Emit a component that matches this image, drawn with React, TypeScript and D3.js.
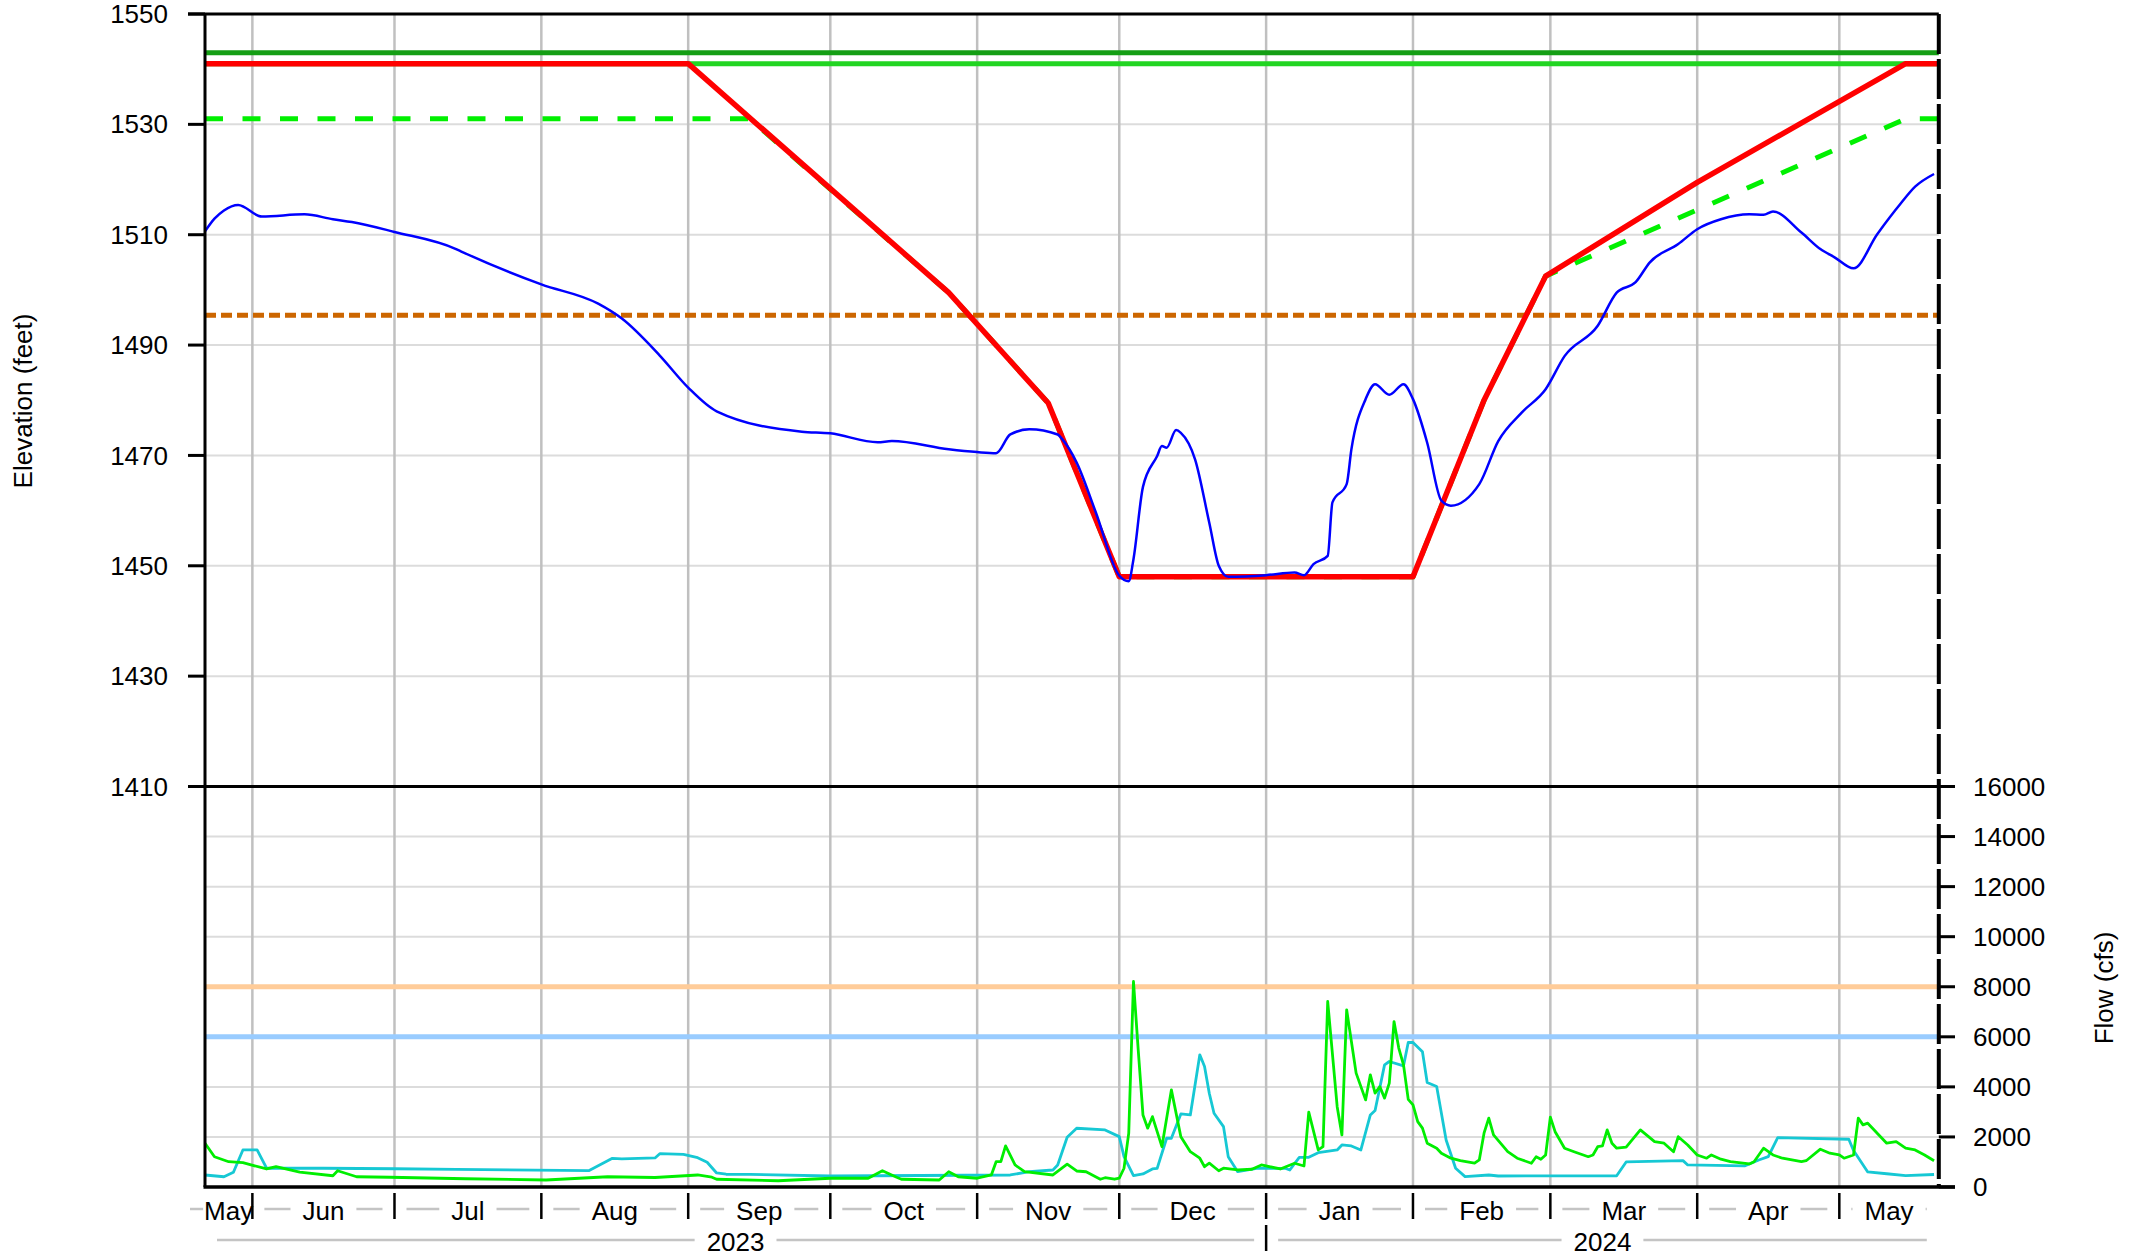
import React from "react";
import * as d3 from "d3";

// ---------------- data ----------------
const START = "2023-05-22";
const END = "2024-05-22";

const ELEV_TICKS = [1410, 1430, 1450, 1470, 1490, 1510, 1530, 1550];
const FLOW_TICKS = [0, 2000, 4000, 6000, 8000, 10000, 12000, 14000, 16000];

const TOP_FLOOD_POOL = 1543; // dark green
const TOP_CONSERVATION = 1541; // light green
const MIN_POOL = 1495.4; // orange dashed
const FLOW_LIMIT_HIGH = 8000; // peach
const FLOW_LIMIT_LOW = 6000; // light blue

// [day offset from START, elevation ft]
const RULE_CURVE: [number, number][] = [
  [0, 1541], [102, 1541], [157, 1499.5], [178, 1479.5], [193, 1448],
  [255, 1448], [270, 1480], [283, 1502.5], [315, 1519.5], [359, 1541], [366, 1541],
];
const GUIDE_CURVE: [number, number][] = [
  [0, 1531], [115, 1531], [157, 1499.5], [178, 1479.5], [193, 1448],
  [255, 1448], [270, 1480], [283, 1502.5], [359, 1531], [366, 1531],
];
const POOL_ELEV: [number, number][] = [
  [0, 1510.6], [2, 1512.9], [4, 1514.4], [7, 1515.4], [12, 1513.3], [21, 1513.7], [27, 1512.8],
  [31, 1512.3], [40, 1510.5], [53, 1507.4], [54, 1507.0], [71, 1501.0], [83, 1497.5], [88, 1494.8],
  [96, 1488.1], [102, 1482.3], [108, 1478.0], [126, 1474.3], [132, 1474.0], [142, 1472.4],
  [145, 1472.6], [157, 1471.1], [163, 1470.6], [167, 1470.4], [170, 1473.8], [174, 1474.75],
  [180, 1473.8], [181, 1472.9], [184, 1468.7], [188, 1459.8], [193, 1448.2], [195, 1447.2],
  [196, 1451.2], [198, 1464.3], [201, 1469.9], [202, 1471.7], [203, 1471.4], [205, 1474.6],
  [206, 1474.1], [209, 1469.3], [212, 1457.8], [214, 1450.0], [216, 1448.0], [224, 1448.3],
  [230, 1448.8], [232, 1448.3], [234, 1450.3], [237, 1451.8], [238, 1461.5], [241, 1464.8],
  [242, 1471.1], [245, 1480.2], [247, 1482.9], [250, 1481.0], [253, 1482.9], [255, 1480.2],
  [258, 1472.3], [261, 1461.8], [263, 1460.9], [269, 1464.8], [273, 1472.6], [278, 1477.8],
  [283, 1482.0], [287, 1488.0], [294, 1493.5], [298, 1499.5], [302, 1501.4], [305, 1505.0],
  [311, 1508.3], [315, 1511.0], [320, 1512.8], [326, 1513.7], [329, 1513.6], [331, 1514.2],
  [337, 1510.4], [341, 1507.4], [344, 1505.9], [348, 1503.9], [353, 1510.1], [358, 1515.7],
  [361, 1518.7], [365, 1521.0],
];

// [day offset, cfs]
const FLOW_GREEN: [number, number][] = [
  [0, 1750], [2, 1210], [5, 1010], [8, 970], [13, 720], [15, 810], [20, 590], [27, 450], [28, 650],
  [32, 410], [39, 390], [55, 330], [72, 280], [85, 410], [95, 380], [104, 480], [107, 390], [108, 310],
  [121, 250], [132, 350], [140, 350], [143, 650], [146, 390], [147, 310], [155, 280], [157, 610],
  [159, 410], [163, 350], [166, 480], [167, 1010], [168, 1010], [169, 1640], [171, 880], [173, 610],
  [179, 480], [182, 910], [184, 640], [186, 610], [189, 310], [190, 370], [192, 310], [193, 350],
  [194, 750], [195, 2150], [196, 8210], [197, 5480], [198, 2880], [199, 2350], [200, 2810],
  [202, 1610], [204, 3880], [206, 2010], [208, 1410], [210, 1150], [211, 810], [212, 950],
  [214, 650], [215, 750], [218, 680], [221, 710], [223, 880], [227, 720], [230, 950], [232, 840],
  [233, 2990], [235, 1480], [236, 1610], [237, 7410], [239, 3210], [240, 2080], [241, 7080],
  [243, 4550], [245, 3480], [246, 4480], [247, 3750], [248, 4010], [249, 3550], [250, 4150],
  [251, 6610], [252, 5550], [253, 4880], [254, 3500], [255, 3280], [256, 2610], [257, 2350],
  [258, 1750], [260, 1550], [261, 1350], [263, 1150], [265, 1050], [268, 950], [269, 1080],
  [270, 2150], [271, 2750], [272, 2080], [275, 1410], [277, 1150], [280, 950], [281, 1210],
  [282, 1110], [283, 1280], [284, 2790], [285, 2210], [287, 1550], [289, 1410], [292, 1210],
  [293, 1280], [294, 1610], [295, 1640], [296, 2280], [297, 1750], [298, 1550], [300, 1590],
  [303, 2280], [306, 1810], [308, 1750], [310, 1410], [311, 2010], [313, 1680], [315, 1280],
  [317, 1150], [318, 1280], [320, 1110], [322, 1010], [326, 920], [327, 1010], [329, 1550],
  [331, 1280], [333, 1150], [337, 1010], [338, 1050], [341, 1510], [343, 1350], [345, 1280],
  [346, 1150], [348, 1280], [349, 2750], [350, 2480], [351, 2550], [354, 1950], [355, 1750],
  [357, 1810], [359, 1550], [361, 1480], [363, 1280], [365, 1050],
];
const FLOW_CYAN: [number, number][] = [
  [0, 480], [4, 410], [6, 590], [8, 1480], [11, 1480], [13, 750], [25, 750], [40, 730], [53, 707],
  [81, 653], [86, 1147], [88, 1120], [95, 1160], [96, 1330], [101, 1300], [104, 1170], [106, 990],
  [108, 560], [110, 510], [115, 507], [132, 440], [170, 480], [174, 613], [179, 680], [180, 880],
  [182, 1987], [184, 2347], [190, 2280], [193, 2013], [194, 1213], [196, 453], [198, 520],
  [200, 720], [201, 747], [203, 1947], [204, 1947], [206, 2920], [208, 2880], [210, 5280],
  [211, 4813], [212, 3747], [213, 2947], [215, 2413], [216, 1213], [218, 613], [222, 747],
  [228, 747], [229, 680], [231, 1187], [233, 1187], [235, 1373], [239, 1480], [240, 1680],
  [242, 1640], [244, 1480], [246, 2880], [247, 3053], [249, 4880], [250, 5013], [253, 4840],
  [254, 5773], [255, 5773], [257, 5400], [258, 4173], [260, 4013], [262, 1880], [264, 747],
  [266, 413], [271, 480], [273, 440], [298, 450], [300, 1000], [312, 1053], [313, 880],
  [325, 840], [328, 1080], [330, 1213], [332, 1973], [347, 1907], [348, 1456], [351, 600],
  [355, 529], [359, 457], [365, 500],
];

// ---------------- layout ----------------
const W = 2134;
const H = 1258;
const X0 = 205;
const X1 = 1938.8;
const Y_TOP = 14;
const Y_MID = 786.5;
const Y_BOT = 1187;
const FONT = 26;
const FF = '"Liberation Sans", Arial, Helvetica, sans-serif';

let _ctx: CanvasRenderingContext2D | null = null;
function textWidth(s: string): number {
  if (!_ctx) {
    const c = document.createElement("canvas");
    _ctx = c.getContext("2d");
  }
  if (!_ctx) return s.length * FONT * 0.55;
  _ctx.font = `${FONT}px "Liberation Sans", Arial, sans-serif`;
  return _ctx.measureText(s).width;
}

export default function App() {
  const parse = d3.utcParse("%Y-%m-%d");
  const t0 = parse(START)!;
  const t1 = parse(END)!;
  const x = d3.scaleUtc().domain([t0, t1]).range([X0, X1]);
  const yE = d3.scaleLinear().domain([1410, 1550]).range([Y_MID, Y_TOP]);
  const yF = d3.scaleLinear().domain([0, 16000]).range([Y_BOT, Y_MID]);
  const dd = (d: number) => d3.utcDay.offset(t0, d);

  const elevLine = d3.line<[number, number]>().x((d) => x(dd(d[0]))).y((d) => yE(d[1]));
  const elevSmooth = d3
    .line<[number, number]>()
    .x((d) => x(dd(d[0])))
    .y((d) => yE(d[1]))
    .curve(d3.curveMonotoneX);
  const flowLine = d3.line<[number, number]>().x((d) => x(dd(d[0]))).y((d) => yF(d[1]));

  const months = d3.utcMonth.range(d3.utcMonth.ceil(t0), t1);
  const monthBounds = [t0, ...months, t1];
  const fmtMonth = d3.utcFormat("%b");
  const years = d3.utcYear.range(d3.utcYear.ceil(t0), t1);
  const yearBounds = [t0, ...years, t1];
  const fmtYear = d3.utcFormat("%Y");

  const GAP = 12;
  const grayLabelRow = (bounds: Date[], fmt: (d: Date) => string, yLine: number, yText: number, key: string) => {
    const out: React.ReactNode[] = [];
    for (let i = 0; i < bounds.length - 1; i++) {
      const a = x(bounds[i]);
      const b = x(bounds[i + 1]);
      const label = fmt(bounds[i]);
      const cx = (a + b) / 2;
      const w = textWidth(label);
      const L = cx - w / 2;
      const R = cx + w / 2;
      if (i === 0 && L - GAP <= a + GAP) {
        out.push(<line key={`${key}gl${i}`} x1={190} x2={L - 1} y1={yLine} y2={yLine} stroke="#c4c4c4" strokeWidth={2.5} />);
      }
      if (L - GAP > a + GAP) {
        out.push(<line key={`${key}gl${i}`} x1={a + GAP} x2={L - GAP} y1={yLine} y2={yLine} stroke="#c4c4c4" strokeWidth={2.5} />);
      }
      if (b - GAP > R + GAP) {
        out.push(<line key={`${key}gr${i}`} x1={R + GAP} x2={b - GAP} y1={yLine} y2={yLine} stroke="#c4c4c4" strokeWidth={2.5} />);
      }
      out.push(
        <text key={`${key}t${i}`} x={cx} y={yText} textAnchor="middle" fontSize={FONT} fill="#000">
          {label}
        </text>
      );
    }
    return out;
  };

  const elevGrid = ELEV_TICKS.filter((v) => v !== 1410 && v !== 1550);
  const flowGrid = FLOW_TICKS.filter((v) => v !== 0 && v !== 16000);

  return (
    <svg
      width={W}
      height={H}
      style={{ position: "absolute", left: 0, top: 0, background: "#fff" }}
      fontFamily={FF}
    >
      <rect x={0} y={0} width={W} height={H} fill="#fff" />

      {/* horizontal grid */}
      {elevGrid.map((v) => (
        <line key={`ge${v}`} x1={X0} x2={X1} y1={yE(v)} y2={yE(v)} stroke="#dcdcdc" strokeWidth={2} />
      ))}
      {flowGrid.map((v) => (
        <line key={`gf${v}`} x1={X0} x2={X1} y1={yF(v)} y2={yF(v)} stroke="#dcdcdc" strokeWidth={2} />
      ))}
      {/* vertical grid */}
      {months.map((m) => (
        <line key={`gv${+m}`} x1={x(m)} x2={x(m)} y1={Y_TOP} y2={Y_BOT} stroke="#c0c0c0" strokeWidth={2.5} />
      ))}

      {/* elevation reference lines */}
      <line x1={X0} x2={X1} y1={yE(TOP_FLOOD_POOL)} y2={yE(TOP_FLOOD_POOL)} stroke="#149e14" strokeWidth={5} />
      <line x1={X0} x2={X1} y1={yE(TOP_CONSERVATION)} y2={yE(TOP_CONSERVATION)} stroke="#22d522" strokeWidth={5} />
      <line
        x1={X0}
        x2={X1}
        y1={yE(MIN_POOL)}
        y2={yE(MIN_POOL)}
        stroke="#cc6600"
        strokeWidth={5}
        strokeDasharray="11 5"
      />
      <path d={elevLine(GUIDE_CURVE) || ""} fill="none" stroke="#00f000" strokeWidth={5} strokeDasharray="18 19.5" />
      <path d={elevLine(RULE_CURVE) || ""} fill="none" stroke="#ff0000" strokeWidth={5.5} strokeLinejoin="round" />
      <path d={elevSmooth(POOL_ELEV) || ""} fill="none" stroke="#0000ff" strokeWidth={2.5} />

      {/* flow reference lines */}
      <line x1={X0} x2={X1} y1={yF(FLOW_LIMIT_HIGH)} y2={yF(FLOW_LIMIT_HIGH)} stroke="#ffcc99" strokeWidth={5} />
      <line x1={X0} x2={X1} y1={yF(FLOW_LIMIT_LOW)} y2={yF(FLOW_LIMIT_LOW)} stroke="#99ccff" strokeWidth={5} />
      <path d={flowLine(FLOW_CYAN) || ""} fill="none" stroke="#16c8d4" strokeWidth={2.8} strokeLinejoin="round" />
      <path d={flowLine(FLOW_GREEN) || ""} fill="none" stroke="#00ee00" strokeWidth={2.8} strokeLinejoin="round" />

      {/* frame */}
      <line x1={188} x2={X1} y1={Y_TOP} y2={Y_TOP} stroke="#000" strokeWidth={3} />
      <line x1={188} x2={1955} y1={Y_MID} y2={Y_MID} stroke="#000" strokeWidth={3} />
      <line x1={X0 - 1.5} x2={1955} y1={Y_BOT} y2={Y_BOT} stroke="#000" strokeWidth={3.5} />
      <line x1={X0} x2={X0} y1={Y_TOP} y2={Y_BOT} stroke="#000" strokeWidth={3} />
      <line x1={X1} x2={X1} y1={Y_TOP} y2={Y_BOT} stroke="#000" strokeWidth={4} strokeDasharray="40 5" />

      {/* left axis */}
      {ELEV_TICKS.map((v) => (
        <g key={`le${v}`}>
          <line x1={188} x2={X0} y1={yE(v)} y2={yE(v)} stroke="#000" strokeWidth={3} />
          <text x={168} y={yE(v)} dy="0.35em" textAnchor="end" fontSize={FONT} fill="#000">
            {v}
          </text>
        </g>
      ))}
      {/* right axis */}
      {FLOW_TICKS.map((v) => (
        <g key={`rf${v}`}>
          <line x1={X1} x2={1955} y1={yF(v)} y2={yF(v)} stroke="#000" strokeWidth={3} />
          <text x={1973} y={yF(v)} dy="0.35em" textAnchor="start" fontSize={FONT} fill="#000">
            {v}
          </text>
        </g>
      ))}

      <text
        transform="translate(23,401) rotate(-90)"
        textAnchor="middle"
        dy="0.35em"
        fontSize={FONT}
        fill="#000"
      >
        Elevation (feet)
      </text>
      <text
        transform="translate(2104,988) rotate(-90)"
        textAnchor="middle"
        dy="0.35em"
        fontSize={FONT}
        fill="#000"
      >
        Flow (cfs)
      </text>

      {/* bottom time axis */}
      {months.map((m) => (
        <line key={`mt${+m}`} x1={x(m)} x2={x(m)} y1={1193} y2={1219} stroke="#000" strokeWidth={2.5} />
      ))}
      {years.map((yv) => (
        <line key={`yt${+yv}`} x1={x(yv)} x2={x(yv)} y1={1225} y2={1251} stroke="#000" strokeWidth={2.5} />
      ))}
      {grayLabelRow(monthBounds, fmtMonth, 1209, 1220, "m")}
      {grayLabelRow(yearBounds, fmtYear, 1240, 1251, "y")}
    </svg>
  );
}
